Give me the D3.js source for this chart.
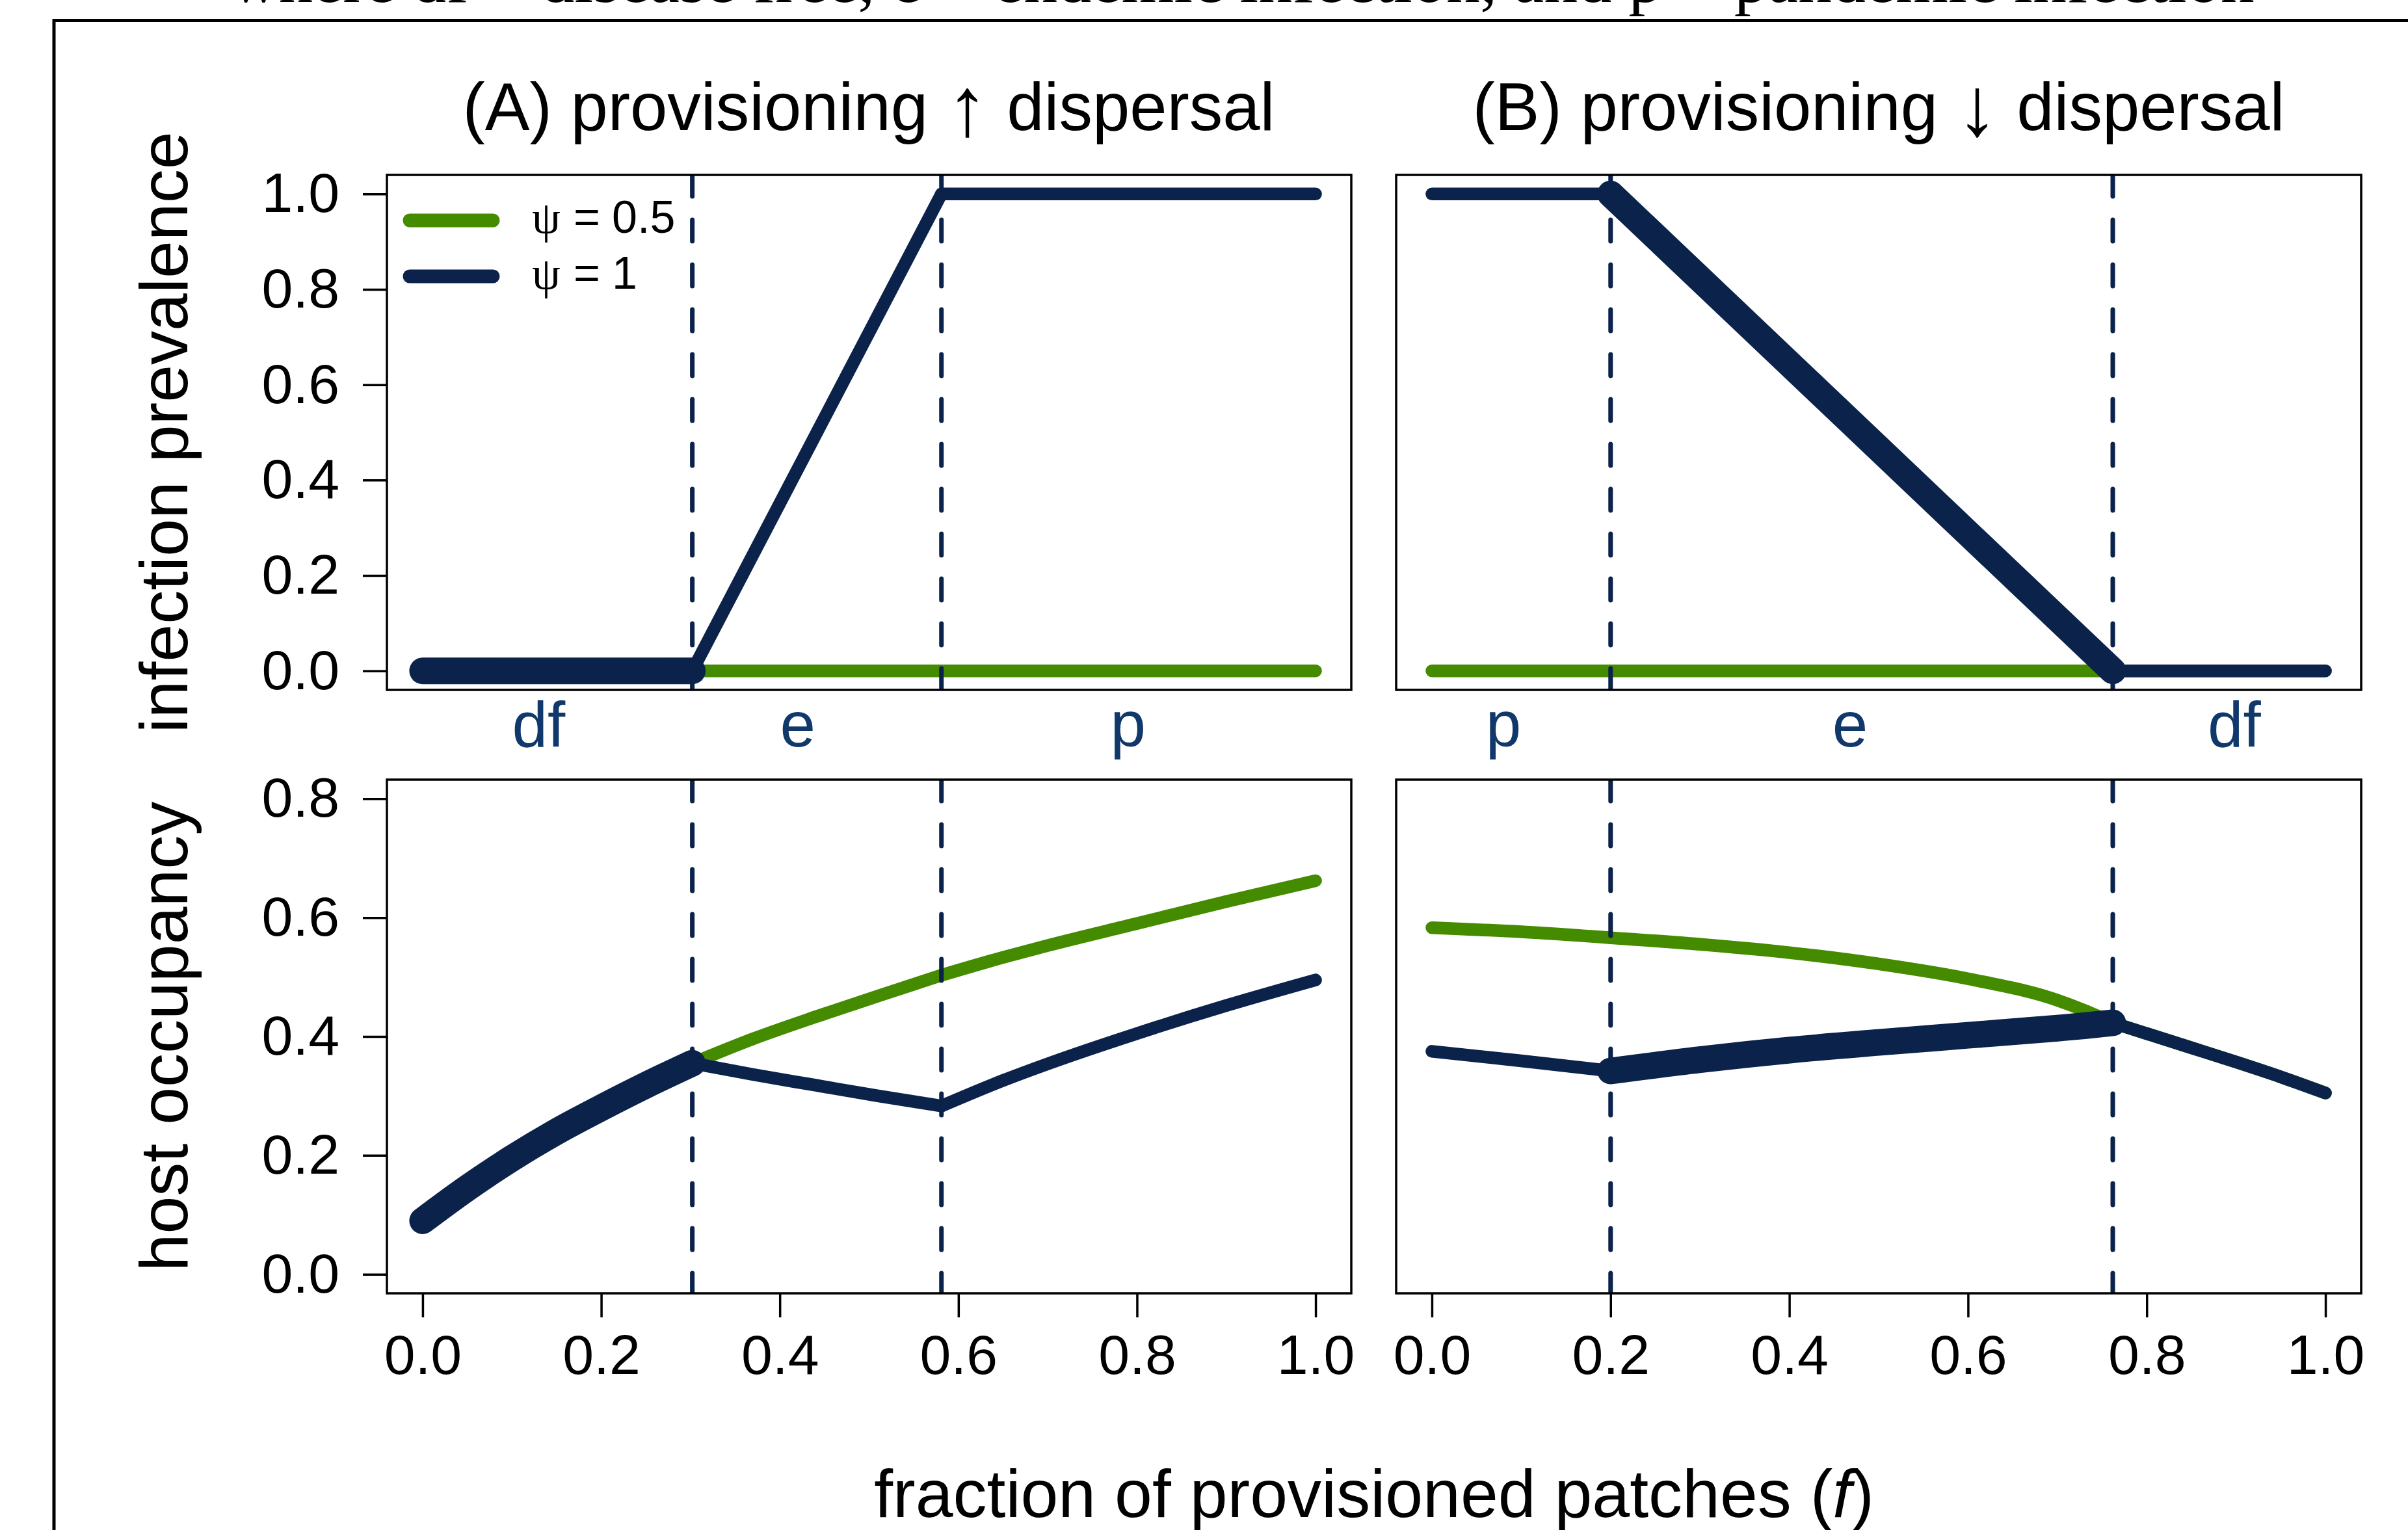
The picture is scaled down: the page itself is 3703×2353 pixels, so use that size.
<!DOCTYPE html>
<html lang="en">
<head>
  <meta charset="utf-8">
  <title>Provisioning and dispersal</title>
  <script src="https://d3js.org/d3.v7.min.js"></script>
  <style>
    body { margin: 0; background: #ffffff; }
  </style>
</head>
<body>
<script type="text/javascript">

  // ---- data ----
  var xTicks = [0, 0.2, 0.4, 0.6, 0.8, 1.0];
  var prevTicks = [0, 0.2, 0.4, 0.6, 0.8, 1.0];
  var occTicks = [0, 0.2, 0.4, 0.6, 0.8];

  // regime boundaries (dashed lines) and the stretch drawn heavy
  var breaksA = [0.302, 0.581];
  var breaksB = [0.2, 0.762];
  var heavyA = [0, 0.302];
  var heavyB = [0.2, 0.762];

  var regionsA = ["df", "e", "p"];
  var regionPosA = [0.13, 0.42, 0.79];
  var regionsB = ["p", "e", "df"];
  var regionPosB = [0.08, 0.468, 0.898];

  var psiValues = ["0.5", "1"];

  // (A) infection prevalence
  var fPrevA = [0, 0.302, 0.581, 1];
  var prevA_half = [0, 0, 0, 0];
  var prevA_one = [0, 0, 1, 1];

  // (A) host occupancy
  var fOccA = [0, 0.05, 0.1, 0.15, 0.2, 0.25, 0.302, 0.37, 0.44, 0.51, 0.581, 0.65, 0.7, 0.8, 0.9, 1.0];
  var occA_half = [0.09, 0.145, 0.195, 0.24, 0.28, 0.318, 0.355, 0.396, 0.433, 0.468, 0.503, 0.533, 0.553, 0.590, 0.627, 0.662];
  var occA_one = [0.09, 0.145, 0.195, 0.24, 0.28, 0.318, 0.355, 0.336, 0.318, 0.300, 0.283, 0.326, 0.354, 0.405, 0.452, 0.495];

  // (B) infection prevalence
  var fPrevB = [0, 0.2, 0.762, 1];
  var prevB_half = [0, 0, 0, 0];
  var prevB_one = [1, 1, 0, 0];

  // (B) host occupancy
  var fOccB = [0, 0.1, 0.2, 0.3, 0.4, 0.5, 0.6, 0.7, 0.73, 0.762, 0.85, 0.9, 0.95, 1.0];
  var occB_half = [0.583, 0.576, 0.566, 0.555, 0.541, 0.522, 0.497, 0.461, 0.444, 0.423, 0.381, 0.357, 0.332, 0.305];
  var occB_one = [0.375, 0.359, 0.342, 0.361, 0.377, 0.390, 0.402, 0.414, 0.418, 0.423, 0.381, 0.357, 0.332, 0.305];

  // ---- drawing ----
  var W = 3703, H = 2353;
  var sans = "'Liberation Sans', Arial, Helvetica, sans-serif";
  var serif = "'Liberation Serif', 'Times New Roman', serif";
  var navy = "#0b234b", green = "#458b00", regionCol = "#10386a";
  var thinW = 19.5, heavyW = 41;

  var svg = d3.select("body")
              .append("svg")
              .attr("width", W)
              .attr("height", H)
              .style("font-family", sans);

  svg.append("rect").attr("width", W).attr("height", H).attr("fill", "#ffffff");

  // scales (R style 4% padding on the x range)
  var xA = d3.scaleLinear().domain([-0.04, 1.04]).range([595, 2078]);
  var xB = d3.scaleLinear().domain([-0.04, 1.04]).range([2147, 3631]);
  var yPrev = d3.scaleLinear().domain([-0.04, 1.04]).range([1061, 269]);
  var yOcc = d3.scaleLinear().domain([-0.032, 0.832]).range([1989, 1199]);

  // split a series at the regime boundaries so kinks stay sharp
  function pieces(fs, vs, cuts) {
    var out = [], cur = [];
    fs.forEach(function(f, i) {
      cur.push([f, vs[i]]);
      if (cuts.indexOf(f) >= 0 && cur.length > 1) {
        out.push(cur);
        cur = [[f, vs[i]]];
      }
    });
    if (cur.length > 1) out.push(cur);
    return out;
  }

  var clipCount = 0;

  function drawPanel(x, y, fs, half, one, cuts, heavy) {
    var x0 = x.range()[0], x1 = x.range()[1];
    var yTop = y.range()[1], yBot = y.range()[0];
    var id = "clip" + (clipCount++);

    svg.append("clipPath").attr("id", id)
       .append("rect")
       .attr("x", x0).attr("y", yTop)
       .attr("width", x1 - x0).attr("height", yBot - yTop);

    var g = svg.append("g").attr("clip-path", "url(#" + id + ")");

    var line = d3.line()
                 .x(function(d) { return x(d[0]); })
                 .y(function(d) { return y(d[1]); })
                 .curve(d3.curveMonotoneX);

    // psi = 0.5 underneath
    g.selectAll("path.half")
     .data(pieces(fs, half, cuts))
     .enter()
       .append("path")
       .attr("d", line)
       .attr("fill", "none")
       .attr("stroke", green)
       .attr("stroke-width", thinW)
       .attr("stroke-linecap", "round")
       .attr("stroke-linejoin", "round");

    // psi = 1 on top, heavier inside its marked regime
    g.selectAll("path.one")
     .data(pieces(fs, one, cuts))
     .enter()
       .append("path")
       .attr("d", line)
       .attr("fill", "none")
       .attr("stroke", navy)
       .attr("stroke-width", function(p) {
          var inHeavy = p[0][0] >= heavy[0] && p[p.length - 1][0] <= heavy[1];
          return inHeavy ? heavyW : thinW;
       })
       .attr("stroke-linecap", "round")
       .attr("stroke-linejoin", "round");

    // regime boundaries
    g.selectAll("line.cut")
     .data(cuts)
     .enter()
       .append("line")
       .attr("x1", function(d) { return x(d); })
       .attr("x2", function(d) { return x(d); })
       .attr("y1", yTop)
       .attr("y2", yBot)
       .attr("stroke", navy)
       .attr("stroke-width", 7)
       .attr("stroke-linecap", "round")
       .attr("stroke-dasharray", "33,36");

    // plot box
    svg.append("rect")
       .attr("x", x0).attr("y", yTop)
       .attr("width", x1 - x0).attr("height", yBot - yTop)
       .attr("fill", "none")
       .attr("stroke", "#000")
       .attr("stroke-width", 3.5);
  }

  drawPanel(xA, yPrev, fPrevA, prevA_half, prevA_one, breaksA, heavyA);
  drawPanel(xB, yPrev, fPrevB, prevB_half, prevB_one, breaksB, heavyB);
  drawPanel(xA, yOcc, fOccA, occA_half, occA_one, breaksA, heavyA);
  drawPanel(xB, yOcc, fOccB, occB_half, occB_one, breaksB, heavyB);

  // axes
  function styleAxis(g) {
    g.attr("font-size", 86).attr("font-family", sans);
    g.select(".domain").remove();
    g.selectAll(".tick line").attr("stroke", "#000").attr("stroke-width", 3.5);
    g.selectAll(".tick text").attr("fill", "#000");
  }

  svg.append("g")
     .attr("transform", "translate(595,0)")
     .call(d3.axisLeft(yPrev).tickValues(prevTicks).tickSize(37).tickPadding(36).tickFormat(d3.format(".1f")))
     .call(styleAxis);

  svg.append("g")
     .attr("transform", "translate(595,0)")
     .call(d3.axisLeft(yOcc).tickValues(occTicks).tickSize(37).tickPadding(36).tickFormat(d3.format(".1f")))
     .call(styleAxis);

  [xA, xB].forEach(function(x) {
    svg.append("g")
       .attr("transform", "translate(0,1989)")
       .call(d3.axisBottom(x).tickValues(xTicks).tickSize(37).tickPadding(26).tickFormat(d3.format(".1f")))
       .call(styleAxis);
  });

  // regime labels under the top row
  function regionLabels(x, names, pos) {
    svg.selectAll(null)
       .data(names)
       .enter()
         .append("text")
         .text(function(d) { return d; })
         .attr("x", function(d, i) { return x(pos[i]); })
         .attr("y", 1148)
         .attr("text-anchor", "middle")
         .attr("font-size", 98)
         .attr("fill", regionCol);
  }
  regionLabels(xA, regionsA, regionPosA);
  regionLabels(xB, regionsB, regionPosB);

  // panel titles, the arrow is a taller glyph in the original
  function panelTitle(cx, head, arrow) {
    var t = svg.append("text")
               .attr("x", cx).attr("y", 200)
               .attr("text-anchor", "middle").attr("font-size", 103);
    t.append("tspan").text(head + " ");
    t.append("tspan").text(arrow).attr("font-size", 128).attr("dy", 8);
    t.append("tspan").text(" dispersal").attr("dy", -8);
  }
  panelTitle(1336, "(A) provisioning", "\u2191");
  panelTitle(2889, "(B) provisioning", "\u2193");

  // axis titles
  svg.append("text").text("infection prevalence")
     .attr("transform", "translate(288,665) rotate(-90)")
     .attr("text-anchor", "middle").attr("font-size", 104);
  svg.append("text").text("host occupancy")
     .attr("transform", "translate(288,1594) rotate(-90)")
     .attr("text-anchor", "middle").attr("font-size", 104);

  var xt = svg.append("text")
              .attr("x", 2113).attr("y", 2333)
              .attr("text-anchor", "middle").attr("font-size", 104);
  xt.append("tspan").text("fraction of provisioned patches (");
  xt.append("tspan").text("f").attr("font-style", "italic");
  xt.append("tspan").text(")");

  // legend
  var colors = [green, navy];
  psiValues.forEach(function(v, i) {
    var yy = 339 + 86 * i;
    svg.append("line")
       .attr("x1", 630).attr("x2", 758)
       .attr("y1", yy).attr("y2", yy)
       .attr("stroke", colors[i])
       .attr("stroke-width", 21)
       .attr("stroke-linecap", "round");
    var t = svg.append("text").attr("y", yy + 19).attr("font-size", 70);
    t.append("tspan").text("\u03c8").attr("x", 818).attr("font-family", serif);
    t.append("tspan").text("=").attr("x", 882);
    t.append("tspan").text(v).attr("x", 941);
  });

  // caption line cut off at the top, and the outer frame
  svg.append("text")
     .text("where df = disease free, e = endemic infection, and p = pandemic infection")
     .attr("x", 354).attr("y", 3)
     .attr("font-family", serif)
     .attr("font-size", 104);

  svg.append("line").attr("x1", 83).attr("x2", W).attr("y1", 31.5).attr("y2", 31.5)
     .attr("stroke", "#000").attr("stroke-width", 5);
  svg.append("line").attr("x1", 83).attr("x2", 83).attr("y1", 29).attr("y2", H)
     .attr("stroke", "#000").attr("stroke-width", 5);

</script>
</body>
</html>
